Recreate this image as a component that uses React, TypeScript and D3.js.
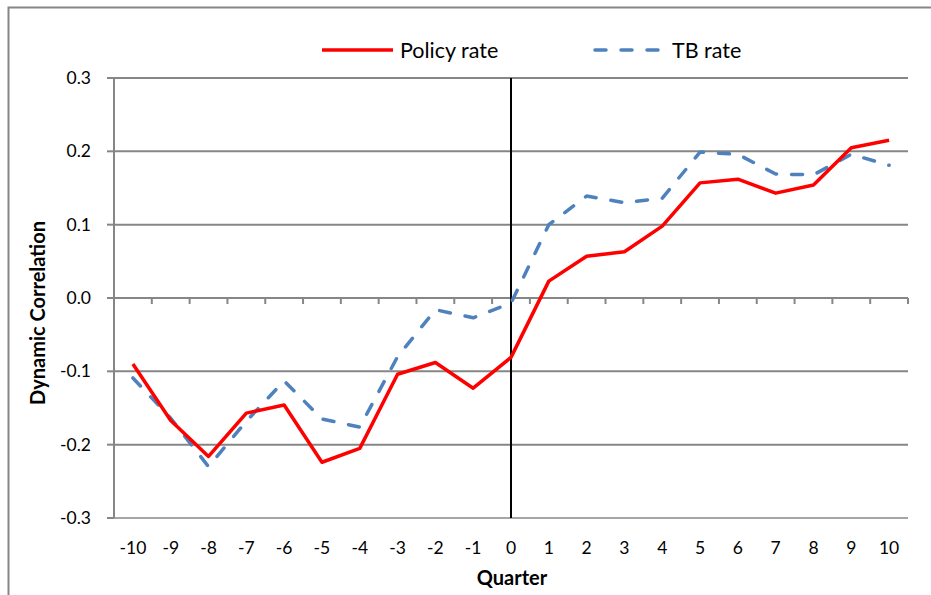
import React from "react";
import { scaleBand, scaleLinear, line } from "d3";

// values
const quarters = [-10, -9, -8, -7, -6, -5, -4, -3, -2, -1, 0, 1, 2, 3, 4, 5, 6, 7, 8, 9, 10];
const policyRate = [-0.09, -0.167, -0.216, -0.157, -0.146, -0.224, -0.205, -0.104, -0.088, -0.123, -0.081,
  0.023, 0.057, 0.063, 0.098, 0.157, 0.162, 0.143, 0.154, 0.205, 0.215];
const tbRate = [-0.109, -0.164, -0.23, -0.168, -0.113, -0.165, -0.176, -0.08, -0.016, -0.027, -0.007,
  0.1, 0.139, 0.13, 0.136, 0.199, 0.196, 0.169, 0.168, 0.196, 0.181];
const yTicks = [-0.3, -0.2, -0.1, 0.0, 0.1, 0.2, 0.3];

const W = 931, H = 595;
const left = 114, right = 908, top = 78, bottom = 518;
const font = "Lato, 'Open Sans', sans-serif";
const grey = "#868686";

export default function App() {
  const x = scaleBand<number>().domain(quarters).range([left, right]).padding(0);
  const cx = (q: number) => (x(q) as number) + x.bandwidth() / 2;
  const y = scaleLinear().domain([-0.3, 0.3]).range([bottom, top]);

  const mk = (vals: number[]) =>
    line<number>().x((_, i) => cx(quarters[i])).y(v => y(v))(vals) as string;

  const fmt = (v: number) => (Math.abs(v) < 1e-9 ? "0.0" : v.toFixed(1));
  const bounds = [...quarters.map(q => x(q) as number), right];

  return (
    <div style={{ position: "absolute", left: 0, top: 0 }}>
      <svg width={W} height={H} style={{ display: "block", background: "#fff" }}>
        <rect x={8.5} y={7.5} width={940} height={600} fill="none" stroke={grey} strokeWidth={2} />

        {/* gridlines */}
        {yTicks.map(t => (
          <line key={"g" + t} x1={left} x2={right} y1={y(t)} y2={y(t)}
            stroke={t === -0.3 ? "#a6a6a6" : grey} strokeWidth={2} />
        ))}

        {/* value axis */}
        <line x1={left} x2={left} y1={top} y2={bottom} stroke={grey} strokeWidth={2} />
        {yTicks.map(t => (
          <g key={"y" + t}>
            <line x1={left - 7} x2={left} y1={y(t)} y2={y(t)} stroke={grey} strokeWidth={2} />
            <text x={91} y={y(t)} dy="0.35em" textAnchor="end" fontFamily={font} fontSize={17.5} fill="#000">
              {fmt(t)}
            </text>
          </g>
        ))}

        {/* category axis crossing at zero */}
        <line x1={left} x2={right} y1={y(0)} y2={y(0)} stroke={grey} strokeWidth={2} />
        {bounds.map((b, i) => (
          <line key={"xt" + i} x1={b} x2={b} y1={y(0)} y2={y(0) + 6} stroke={grey} strokeWidth={2} />
        ))}
        {quarters.map(q => (
          <text key={"xl" + q} x={cx(q)} y={548} dy="0.35em" textAnchor="middle" fontFamily={font} fontSize={17.5} fill="#000">
            {q}
          </text>
        ))}

        {/* vertical marker at quarter 0 */}
        <line x1={cx(0)} x2={cx(0)} y1={top} y2={bottom} stroke="#000" strokeWidth={2} />

        {/* series */}
        <path d={mk(tbRate)} fill="none" stroke="#4F81BD" strokeWidth={3.5}
          strokeDasharray="11 15" strokeLinecap="round" strokeLinejoin="round" />
        <path d={mk(policyRate)} fill="none" stroke="#FF0000" strokeWidth={3.5} strokeLinejoin="round" />

        {/* axis titles */}
        <text x={512} y={578} dy="0.35em" textAnchor="middle" fontFamily={font} fontSize={20} fontWeight="bold">
          Quarter
        </text>
        <text transform="translate(38,313) rotate(-90)" dy="0.35em" textAnchor="middle" fontFamily={font}
          fontSize={20} fontWeight="bold">
          Dynamic Correlation
        </text>

        {/* legend */}
        <line x1={322} x2={393} y1={50} y2={50} stroke="#FF0000" strokeWidth={3.5} />
        <text x={400} y={50} dy="0.35em" fontFamily={font} fontSize={21.5}>Policy rate</text>
        <line x1={595} x2={663} y1={50} y2={50} stroke="#4F81BD" strokeWidth={3.5}
          strokeDasharray="11 15" strokeLinecap="round" />
        <text x={672} y={50} dy="0.35em" fontFamily={font} fontSize={21.5}>TB rate</text>
      </svg>
    </div>
  );
}
